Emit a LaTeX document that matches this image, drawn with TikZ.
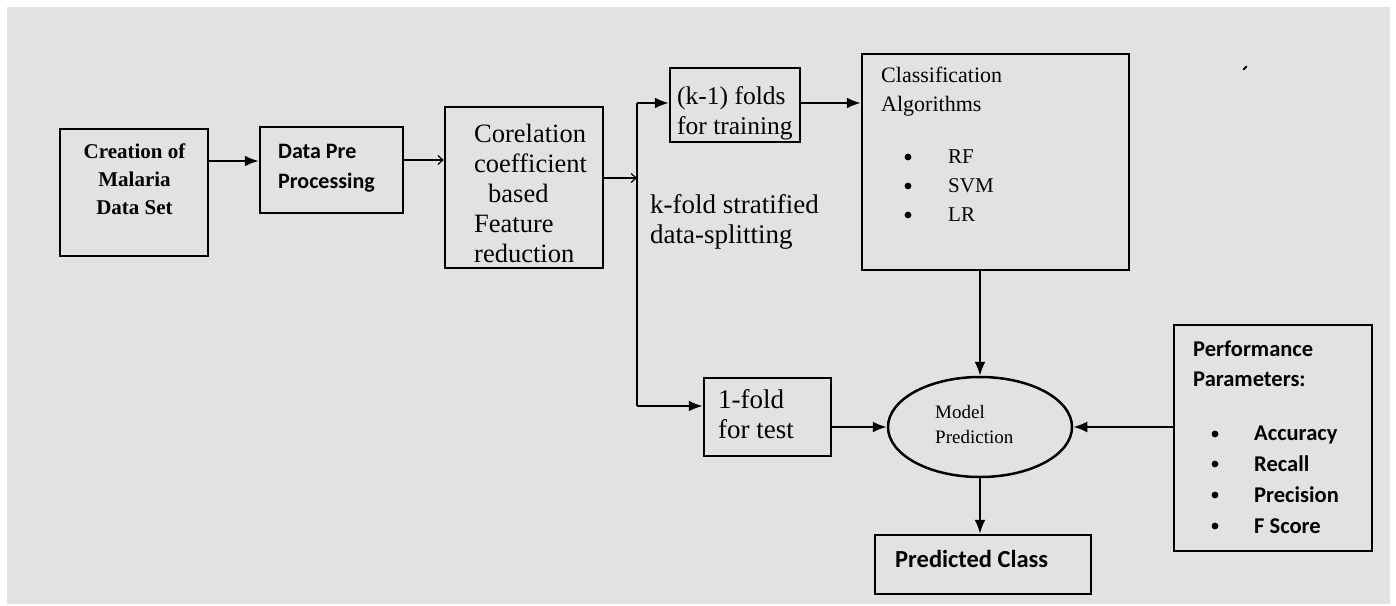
\documentclass[tikz,border=0pt]{standalone}
\usepackage{fontspec}
\setmainfont{Liberation Serif}
\newfontfamily\calib{Carlito}
\usetikzlibrary{arrows.meta,shapes.geometric,calc}
\definecolor{bggray}{HTML}{E2E2E2}
\tikzset{
  box/.style={draw, line width=2.5pt, inner sep=0pt, rectangle},
  arr/.style={line width=2.2pt, -{Latex[length=14pt,width=11pt]}},
  harp/.style={line width=2.2pt, -{Straight Barb[length=5pt,width=9pt,line width=1.2pt]}},
  ln/.style={line width=2.2pt},
  txt/.style={inner sep=0pt, anchor=base west, align=left},
  sersmall/.style={font=\fontsize{21}{29}\selectfont},
  serbig/.style={font=\fontsize{27}{30}\selectfont},
  sansb/.style={font=\calib\bfseries\fontsize{22.5}{30}\selectfont},
}
\begin{document}
\begin{tikzpicture}[x=1pt,y=-1pt]
\useasboundingbox (0,0) rectangle (1396,605);
\fill[white] (0,0) rectangle (1396,605);
\fill[bggray] (7,7) rectangle (1390,604);

% boxes
\node[box, minimum width=148pt, minimum height=127pt] (b1) at (134,192.5) {};
\node[box, minimum width=143pt, minimum height=86pt] (b2) at (331.5,170) {};
\node[box, minimum width=158pt, minimum height=161pt] (b3) at (524,187.5) {};
\node[box, minimum width=130pt, minimum height=74pt] (b4) at (735,105) {};
\node[box, minimum width=267pt, minimum height=216pt] (b5) at (995.5,162) {};
\node[box, minimum width=127pt, minimum height=78pt] (b6) at (767.5,417) {};
\node[draw, line width=2.5pt, ellipse, minimum width=184pt, minimum height=100pt, inner sep=0pt] (mp) at (980,427) {};
\node[box, minimum width=216pt, minimum height=59pt] (b8) at (983,564.5) {};
\node[box, minimum width=198pt, minimum height=226pt] (b7) at (1273,438) {};

% texts (anchored at the baseline of the last line)
\node[inner sep=0pt, anchor=base, align=center, font=\bfseries\fontsize{21}{28}\selectfont] (t1) at (134.5,214) {Creation of\\Malaria\\Data Set};
\node[txt, font=\calib\bfseries\fontsize{22}{30}\selectfont] (t2) at (278,188) {Data Pre\\Processing};
\node[txt, font=\fontsize{26.5}{30}\selectfont] (t3) at (474,262) {Corelation\\coefficient\\\hspace*{14pt}based\\Feature\\reduction};
\node[txt, font=\fontsize{25.5}{30}\selectfont] (t4) at (677,134) {(k-1) folds\\for training};
\node[txt, font=\fontsize{22}{29}\selectfont] (t5) at (881,111) {Classification\\Algorithms};
\node[txt, sersmall] (t5a) at (948,221) {RF\\SVM\\LR};
\foreach \yy in {157,186,215}
  \fill (908,\yy) circle (3.4pt);
\node[txt, serbig] (kf) at (650,243) {k-fold stratified\\data-splitting};
\node[txt, serbig] (t6) at (718,438) {1-fold\\for test};
\node[txt, font=\fontsize{19}{25}\selectfont] (t7) at (935,443) {Model\\Prediction};
\node[txt, font=\calib\bfseries\fontsize{24.5}{30}\selectfont] (t8) at (895,567) {Predicted Class};
\node[txt, sansb] (t9) at (1193,386) {Performance\\Parameters:};
\node[txt, font=\calib\bfseries\fontsize{22.5}{30.7}\selectfont] (t9a) at (1254,533) {Accuracy\\Recall\\Precision\\F Score};
\foreach \yy in {434,464,495,526}
  \fill (1215,\yy) circle (3.4pt);

% connectors
\coordinate (sp) at (637,178);
\coordinate (sptop) at (637,103);
\coordinate (spbot) at (637,406);
\draw[arr] (b1.east |- 0,161) -- (b2.west |- 0,161);
\draw[harp] (b2.east |- 0,160) -- (b3.west |- 0,160);
\draw[harp] (b3.east |- sp) -- (sp);
\draw[ln] (sptop) -- (spbot);
\draw[arr] (sptop) -- (b4.west |- sptop);
\draw[arr] (spbot) -- (b6.west |- spbot);
\draw[arr] (b4.east |- sptop) -- (b5.west |- sptop);
\draw[arr] (b5.south -| mp.north) -- (mp.north);
\draw[arr] (b6.east |- mp.west) -- (mp.west);
\draw[arr] (b7.west |- mp.east) -- (mp.east);
\draw[arr] (mp.south) -- (mp.south |- b8.north);

% stray mark
\draw[line width=2pt, line cap=round] (1243.5,69.5) -- (1246.5,66.5);
\end{tikzpicture}
\end{document}
